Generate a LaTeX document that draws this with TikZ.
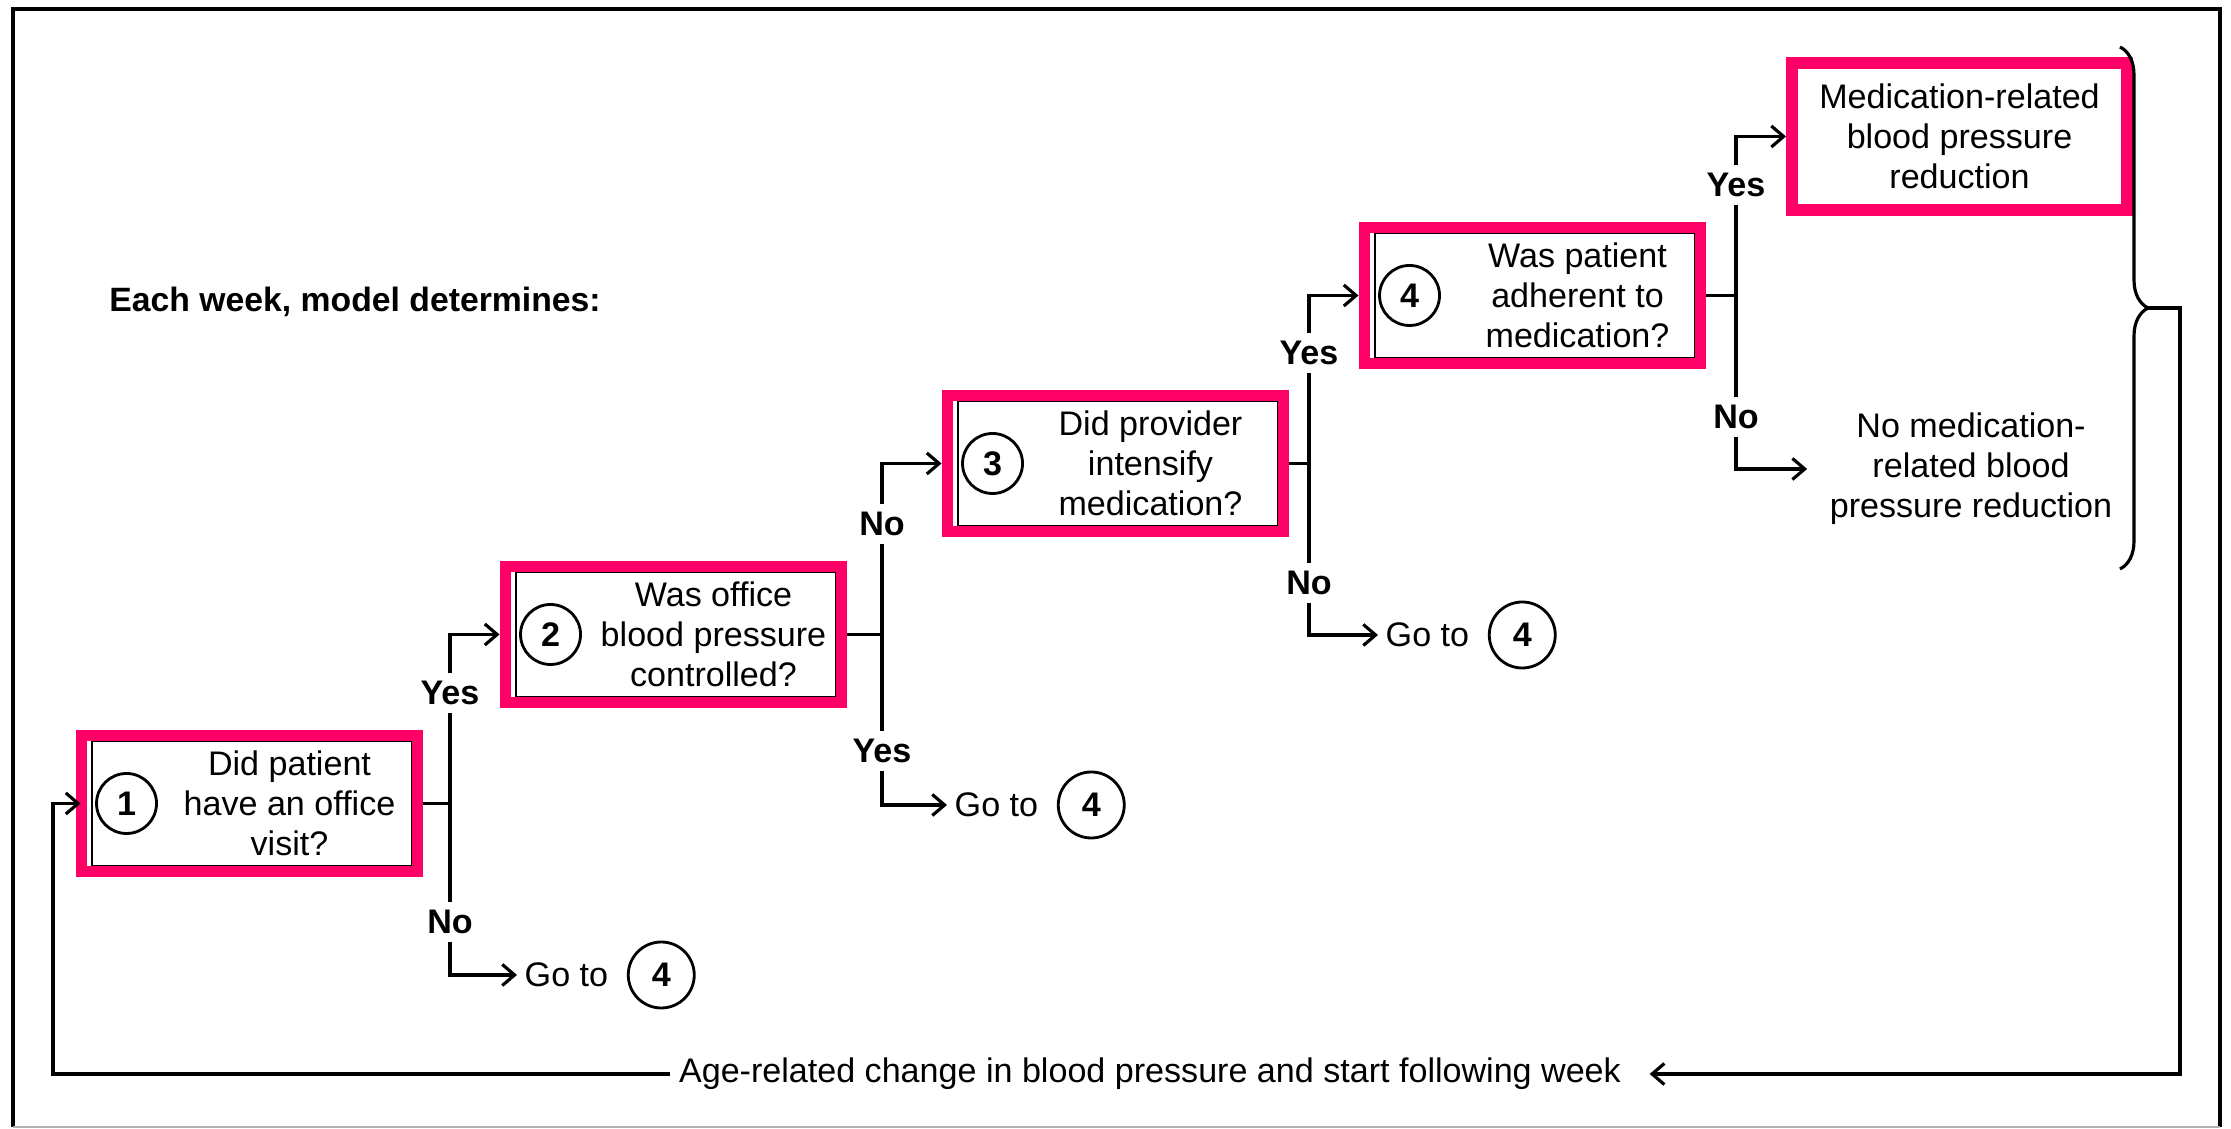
\documentclass[tikz,border=0pt]{standalone}
\usepackage{fontspec}
\setmainfont{Liberation Sans}
\usepackage{tikz}
\usetikzlibrary{arrows.meta,positioning,decorations.pathreplacing}
\definecolor{BPink}{RGB}{255,0,102}

\begin{document}
\begin{tikzpicture}[
    font=\fontsize{9.7}{11.4}\selectfont,
    conn/.style={line width=0.9pt},
    arr/.style={conn,-{Straight Barb[length=3.5pt,width=6pt]}},
    qbox/.style={draw=BPink,line width=3.4pt,minimum width=3.36cm,minimum height=1.36cm,
      path picture={\draw[black,line width=0.5pt]
        ([shift={(3pt,-1.6pt)}]path picture bounding box.north west) rectangle
        ([shift={(-1.6pt,1.6pt)}]path picture bounding box.south east);}},
    rbox/.style={draw=BPink,line width=3.4pt,minimum width=3.35cm,minimum height=1.47cm,align=center},
    numc/.style={circle,draw,line width=0.8pt,minimum size=0.6cm,inner sep=0pt,font=\fontsize{9.7}{11.4}\selectfont\bfseries},
    qtext/.style={align=center,inner sep=0pt},
    lbl/.style={font=\fontsize{9.7}{11.4}\selectfont\bfseries,inner sep=2pt},
    goto/.style={anchor=west,inner sep=2pt},
  ]
  \useasboundingbox (0,0) rectangle (22.31,11.29);
  % outer frame
  \draw[line width=1.2pt] (0.13,0.02) |- (22.20,11.20) -- (22.20,0.02);
  \draw[gray!60,line width=0.6pt] (0.13,0.02) -- (22.20,0.02);

  \node[anchor=west,font=\fontsize{9.6}{11.4}\selectfont\bfseries] (head) at (0.97,8.27) {Each week, model determines:};

  % question boxes
  \node[qbox] (q1) at (2.495,3.255) {};
  \node[qbox] (q2) at (6.735,4.945) {};
  \node[qbox] (q3) at (11.155,6.655) {};
  \node[qbox] (q4) at (15.325,8.335) {};
  \node[rbox] (q5) at (19.595,9.925) {Medication-related\\blood pressure\\reduction};

  \node[numc] (n1) at ([xshift=0.51cm]q1.west) {1};
  \node[numc] (n2) at ([xshift=0.51cm]q2.west) {2};
  \node[numc] (n3) at ([xshift=0.51cm]q3.west) {3};
  \node[numc] (n4) at ([xshift=0.51cm]q4.west) {4};

  \node[qtext] (t1) at ([xshift=0.40cm]q1.center) {Did patient\\have an office\\visit?};
  \node[qtext] (t2) at ([xshift=0.40cm]q2.center) {Was office\\blood pressure\\controlled?};
  \node[qtext] (t3) at ([xshift=0.35cm]q3.center) {Did provider\\intensify\\medication?};
  \node[qtext] (t4) at ([xshift=0.45cm]q4.center) {Was patient\\adherent to\\medication?};

  % yes / no labels
  \node[lbl] (yes1) at (4.50,4.36) {Yes};
  \node[lbl] (no1) at (4.50,2.07) {No};
  \node[lbl] (no2) at (8.82,6.05) {No};
  \node[lbl] (yes2) at (8.82,3.78) {Yes};
  \node[lbl] (yes3) at (13.09,7.76) {Yes};
  \node[lbl] (no3) at (13.09,5.46) {No};
  \node[lbl] (yes4) at (17.36,9.44) {Yes};
  \node[lbl] (no4) at (17.36,7.12) {No};

  % go to
  \node[goto] (g1) at (5.17,1.54) {Go to};
  \node[numc,minimum size=0.66cm,right=0.11cm of g1] (g1n) {4};
  \node[goto] (g2) at (9.47,3.24) {Go to};
  \node[numc,minimum size=0.66cm,right=0.11cm of g2] (g2n) {4};
  \node[goto] (g3) at (13.78,4.94) {Go to};
  \node[numc,minimum size=0.66cm,right=0.11cm of g3] (g3n) {4};

  \node[align=center,inner xsep=0.22cm] (nomed) at (19.71,6.60) {No medication-\\related blood\\pressure reduction};

  \node[inner xsep=0.08cm] (loopt) at (11.50,0.55) {Age-related change in blood pressure and start following week};

  % branches
  \draw[conn] (q1.east) -- (q1.east -| yes1.south);
  \draw[conn] (yes1.south) -- (no1.north);
  \draw[arr] (yes1.north) |- (q2.west);
  \draw[arr] (no1.south) |- (g1.west);

  \draw[conn] (q2.east) -- (q2.east -| no2.south);
  \draw[conn] (no2.south) -- (yes2.north);
  \draw[arr] (no2.north) |- (q3.west);
  \draw[arr] (yes2.south) |- (g2.west);

  \draw[conn] (q3.east) -- (q3.east -| yes3.south);
  \draw[conn] (yes3.south) -- (no3.north);
  \draw[arr] (yes3.north) |- (q4.west);
  \draw[arr] (no3.south) |- (g3.west);

  \draw[conn] (q4.east) -- (q4.east -| yes4.south);
  \draw[conn] (yes4.south) -- (no4.north);
  \draw[arr] (yes4.north) |- (q5.west);
  \draw[arr] (no4.south) |- (nomed.west);

  % weekly loop
  \coordinate (bt) at (21.20,10.82);
  \coordinate (bb) at (21.20,5.60);
  \coordinate (btip) at (21.48,8.21);
  \coordinate (rc) at (21.80,0.55);
  \coordinate (lc) at (0.53,0.55);
  \draw[conn,decorate,decoration={brace,amplitude=0.28cm}] (bt) -- (bb);
  \draw[arr] (btip) -- (rc |- btip) -- (rc) -- ([xshift=0.2cm]loopt.east);
  \draw[arr] (loopt.west) -- (lc) |- ([xshift=0.05cm]q1.west);
\end{tikzpicture}
\end{document}
